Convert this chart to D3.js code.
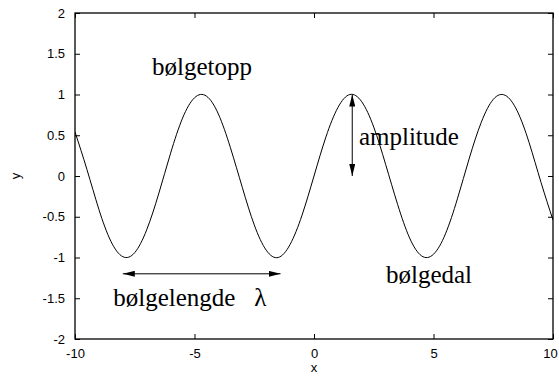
<!DOCTYPE html>
<html lang="en">
<head>
  <meta charset="UTF-8" />
  <title>Bølge</title>
  <script src="https://cdn.jsdelivr.net/npm/d3@7"></script>
  <style>
    html, body { margin: 0; padding: 0; background: #fff; overflow: hidden; }
    svg { display: block; }
    .tick text { font-family: "Liberation Sans", Arial, sans-serif; font-size: 13px; }
    .note { font-family: "Liberation Serif", "Times New Roman", serif; font-size: 25px; fill: #000; }
  </style>
</head>
<body>
  <script>
    // ----------------------------
    // Data read off the picture (wave, sampled every 0.5 in x)
    // ----------------------------
    const xs = [-10, -9.5, -9, -8.5, -8, -7.5, -7, -6.5, -6, -5.5, -5, -4.5, -4, -3.5, -3, -2.5, -2, -1.5, -1, -0.5,
                0, 0.5, 1, 1.5, 2, 2.5, 3, 3.5, 4, 4.5, 5, 5.5, 6, 6.5, 7, 7.5, 8, 8.5, 9, 9.5, 10];
    const ys = [0.54, 0.08, -0.41, -0.80, -0.99, -0.94, -0.66, -0.22, 0.28, 0.71, 0.96, 0.98, 0.76, 0.35, -0.14, -0.60, -0.91, -1.00, -0.84, -0.48,
                0, 0.48, 0.84, 1.00, 0.91, 0.60, 0.14, -0.35, -0.76, -0.98, -0.96, -0.71, -0.28, 0.22, 0.66, 0.94, 0.99, 0.80, 0.41, -0.08, -0.54];
    const xTicks = [-10, -5, 0, 5, 10];
    const yTicks = [-2, -1.5, -1, -0.5, 0, 0.5, 1, 1.5, 2];

    // annotations: [text, x, y] in data units (left end of baseline)
    const labels = [
      ["bølgetopp", -6.78, 1.24],
      ["amplitude", 1.88, 0.38],
      ["bølgedal", 3.01, -1.31],
      ["bølgelengde   λ", -8.4, -1.595]
    ];
    const waveArrow = [-8.0, -1.4, -1.2];   // x1, x2, y
    const ampArrow = [1.6, 1.0, 0.0];       // x, y1, y2

    // ----------------------------
    // Layout
    // ----------------------------
    const width = 559, height = 376;
    const margin = { left: 75, right: 6, top: 13, bottom: 37 };

    const svg = d3.select("body").append("svg")
      .attr("width", width)
      .attr("height", height);

    const x = d3.scaleLinear().domain([-10, 10]).range([margin.left, width - margin.right]);
    const y = d3.scaleLinear().domain([-2, 2]).range([height - margin.bottom, margin.top]);

    const defs = svg.append("defs");
    defs.append("marker")
      .attr("id", "head")
      .attr("viewBox", "0 0 12 6")
      .attr("markerWidth", 12)
      .attr("markerHeight", 6)
      .attr("refX", 12)
      .attr("refY", 3)
      .attr("markerUnits", "userSpaceOnUse")
      .attr("orient", "auto-start-reverse")
      .append("path")
        .attr("d", "M0,0 L12,3 L0,6 Z")
        .attr("fill", "#000");

    // axes with inward ticks, mirrored on top and right
    const axisStyle = g => {
      g.select(".domain").remove();
      g.selectAll(".tick line").attr("stroke", "#000");
    };
    const xAxisG = svg.append("g")
      .attr("transform", `translate(0,${y(-2)})`)
      .call(d3.axisBottom(x).tickValues(xTicks).tickSize(-5).tickPadding(10).tickFormat(d => String(d)))
      .call(axisStyle);
    // keep the last label inside the picture
    xAxisG.selectAll(".tick text").filter(d => d === 10).attr("dx", -3);

    svg.append("g")
      .attr("transform", `translate(0,${y(2)})`)
      .call(d3.axisTop(x).tickValues(xTicks).tickSize(-5).tickFormat(""))
      .call(axisStyle);
    svg.append("g")
      .attr("transform", `translate(${x(-10)},0)`)
      .call(d3.axisLeft(y).tickValues(yTicks).tickSize(-5).tickPadding(10).tickFormat(d => String(d)))
      .call(axisStyle);
    svg.append("g")
      .attr("transform", `translate(${x(10)},0)`)
      .call(d3.axisRight(y).tickValues(yTicks).tickSize(-5).tickFormat(""))
      .call(axisStyle);

    svg.selectAll(".tick text").attr("fill", "#000");

    // frame
    svg.append("rect")
      .attr("x", x(-10)).attr("y", y(2))
      .attr("width", x(10) - x(-10)).attr("height", y(-2) - y(2))
      .attr("fill", "none").attr("stroke", "#000").attr("stroke-width", 1.3);

    // axis titles
    svg.append("text")
      .attr("x", x(0)).attr("y", height - 4)
      .attr("text-anchor", "middle")
      .style("font-family", "Liberation Sans, Arial, sans-serif").style("font-size", "13px")
      .text("x");
    svg.append("text")
      .attr("transform", `translate(20,${y(0)}) rotate(-90)`)
      .attr("text-anchor", "middle")
      .style("font-family", "Liberation Sans, Arial, sans-serif").style("font-size", "13px")
      .text("y");

    // wave
    const clip = defs.append("clipPath").attr("id", "plotclip");
    clip.append("rect")
      .attr("x", x(-10)).attr("y", y(2))
      .attr("width", x(10) - x(-10)).attr("height", y(-2) - y(2));

    const line = d3.line()
      .x((d, i) => x(xs[i]))
      .y(d => y(d))
      .curve(d3.curveNatural);
    svg.append("path")
      .attr("clip-path", "url(#plotclip)")
      .attr("d", line(ys))
      .attr("fill", "none")
      .attr("stroke", "#000")
      .attr("stroke-width", 1);

    // arrows
    svg.append("line")
      .attr("x1", x(waveArrow[0])).attr("x2", x(waveArrow[1]))
      .attr("y1", y(waveArrow[2])).attr("y2", y(waveArrow[2]))
      .attr("stroke", "#000").attr("stroke-width", 1)
      .attr("marker-start", "url(#head)").attr("marker-end", "url(#head)");
    svg.append("line")
      .attr("x1", x(ampArrow[0])).attr("x2", x(ampArrow[0]))
      .attr("y1", y(ampArrow[1])).attr("y2", y(ampArrow[2]))
      .attr("stroke", "#000").attr("stroke-width", 1)
      .attr("marker-start", "url(#head)").attr("marker-end", "url(#head)");

    // annotation text
    svg.selectAll("text.note")
      .data(labels)
      .join("text")
        .attr("class", "note")
        .attr("x", d => x(d[1]))
        .attr("y", d => y(d[2]))
        .style("white-space", "pre")
        .attr("xml:space", "preserve")
        .text(d => d[0]);
  </script>
</body>
</html>
